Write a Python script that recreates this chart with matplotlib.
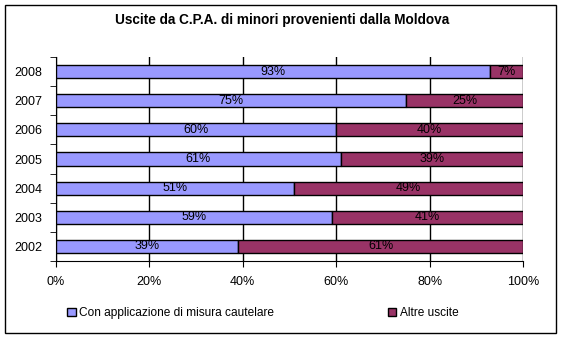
import matplotlib.pyplot as plt
from matplotlib.patches import Rectangle

plt.rcParams['font.family'] = ['Liberation Sans', 'DejaVu Sans']

# -----------------------------
# Data
# -----------------------------

years = ["2002", "2003", "2004", "2005", "2006", "2007", "2008"]
con_misura = [39, 59, 51, 61, 60, 75, 93]
altre_uscite = [61, 41, 49, 39, 40, 25, 7]

blue = "#9999FF"
maroon = "#993366"

# -----------------------------
# Figure
# -----------------------------

fig = plt.figure(figsize=(5.65, 3.4), dpi=100)
fig.patches.append(Rectangle((5 / 565, 1 - 333 / 340), 551 / 565, 328 / 340,
                             transform=fig.transFigure, fill=False,
                             edgecolor="black", linewidth=1))

ax = fig.add_axes([56 / 565, 1 - 261 / 340, 467 / 565, 204 / 340])

pos = range(len(years))
ax.barh(pos, con_misura, height=0.45, color=blue, edgecolor="black",
        linewidth=1, zorder=3, label="Con applicazione di misura cautelare")
ax.barh(pos, altre_uscite, left=con_misura, height=0.45, color=maroon,
        edgecolor="black", linewidth=1, zorder=3, label="Altre uscite")

for i in pos:
    ax.text(con_misura[i] / 2, i, f"{con_misura[i]}%", ha="center",
            va="center", fontsize=9, zorder=4)
    ax.text(con_misura[i] + altre_uscite[i] / 2, i, f"{altre_uscite[i]}%",
            ha="center", va="center", fontsize=9, zorder=4)

ax.set_xlim(0, 100)
ax.set_ylim(-0.5, len(years) - 0.5)
ax.set_xticks([0, 20, 40, 60, 80, 100])
ax.set_xticklabels(["0%", "20%", "40%", "60%", "80%", "100%"], fontsize=9)
ax.set_yticks(list(pos))
ax.set_yticklabels(years, fontsize=9)
ax.set_yticks([i - 0.5 for i in range(len(years) + 1)], minor=True)
ax.tick_params(axis="y", which="major", length=0, pad=10)
ax.tick_params(axis="y", which="minor", length=4, direction="out")
ax.tick_params(axis="x", length=4, direction="out", pad=7)

ax.grid(axis="x", color="black", linewidth=1, zorder=0)
ax.spines["top"].set_visible(False)
ax.spines["right"].set_visible(False)
ax.set_axisbelow(True)

fig.text(0.5, 1 - 20 / 340, "Uscite da C.P.A. di minori provenienti dalla Moldova",
         ha="center", va="center", fontsize=9.8, fontweight="bold")

handles, labels = ax.get_legend_handles_labels()
fig.legend(handles, labels, loc="center", bbox_to_anchor=(0.465, 1 - 313 / 340),
           ncol=2, frameon=False, fontsize=8.6, handlelength=0.7,
           handleheight=0.7, handletextpad=0.3, columnspacing=9.5)

fig.savefig("out.png", dpi=100)
